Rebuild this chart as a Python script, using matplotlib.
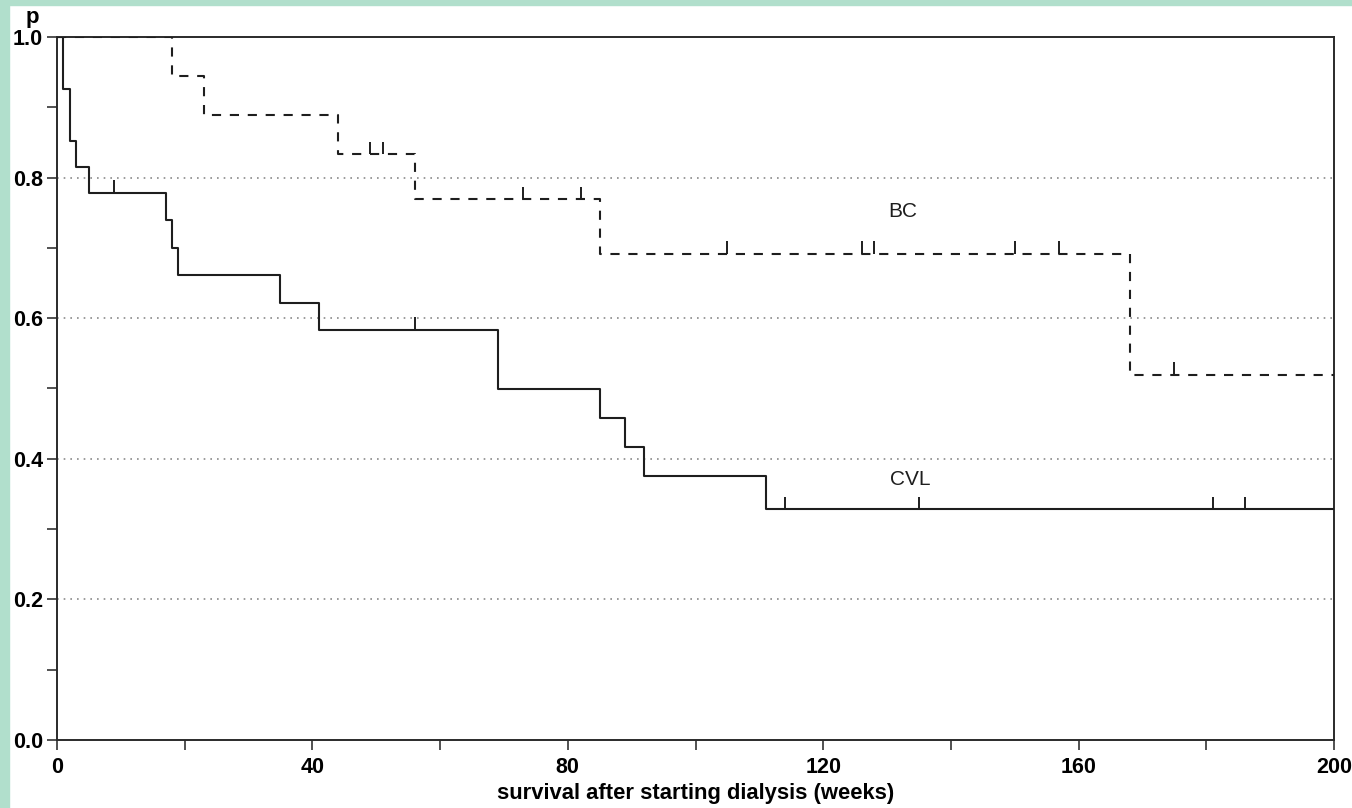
import numpy as np
import matplotlib.pyplot as plt
from matplotlib.patches import Rectangle
from matplotlib.ticker import MultipleLocator

plt.rcParams['font.family'] = ['Liberation Sans', 'DejaVu Sans']

# Kaplan-Meier steps, CVL group (solid)
cvl_times = [0, 1, 2, 3, 5, 17, 18, 19, 35, 41, 69, 85, 89, 92, 111, 200]
cvl_surv = [1.0, 0.926, 0.852, 0.815, 0.778, 0.739, 0.700, 0.661, 0.622, 0.583,
            0.500, 0.458, 0.417, 0.375, 0.328, 0.328]
cvl_censor = [9, 56, 114, 135, 181, 186]

# Kaplan-Meier steps, BC group (dashed)
bc_times = [0, 18, 23, 44, 56, 85, 168, 200]
bc_surv = [1.0, 0.944, 0.889, 0.833, 0.769, 0.692, 0.519, 0.519]
bc_censor = [49, 51, 73, 82, 105, 126, 128, 150, 157, 175]

line_col = '#1e1e1e'


def surv_at(times, surv, t):
    idx = np.searchsorted(times, t, side='right') - 1
    return np.asarray(surv)[idx]


fig = plt.figure(figsize=(13.52, 8.08), dpi=100, facecolor='white')
# teal border strips (left and top)
fig.patches.append(Rectangle((0, 0), 9 / 1352, 1, transform=fig.transFigure,
                             color='#b1dfcc', zorder=0))
fig.patches.append(Rectangle((0, 1 - 5 / 808), 1, 5 / 808, transform=fig.transFigure,
                             color='#b1dfcc', zorder=0))

ax = fig.add_axes([57 / 1352, 68 / 808, 1277 / 1352, 703 / 808])
ax.set_xlim(0, 200)
ax.set_ylim(0, 1.0)

for yv in [0.2, 0.4, 0.6, 0.8]:
    ax.axhline(yv, color='#8a8a8a', lw=1.2, dashes=(1, 3.0), zorder=1)

ax.step(cvl_times, cvl_surv, where='post', color=line_col, lw=1.5, zorder=3)
ax.step(bc_times, bc_surv, where='post', color=line_col, lw=1.5,
        dashes=(4.4, 4.2), zorder=3)

tick_h = 0.018
cy = surv_at(cvl_times, cvl_surv, cvl_censor)
ax.vlines(cvl_censor, cy, cy + tick_h, color=line_col, lw=1.4, zorder=3)
by = surv_at(bc_times, bc_surv, bc_censor)
ax.vlines(bc_censor, by, by + tick_h, color=line_col, lw=1.4, zorder=3)

ax.text(132.5, 0.752, 'BC', fontsize=15, ha='center', va='center', color=line_col)
ax.text(133.6, 0.371, 'CVL', fontsize=15, ha='center', va='center', color=line_col)

for sp in ax.spines.values():
    sp.set_color('#2a2a2a')
    sp.set_linewidth(1.4)

ax.xaxis.set_major_locator(MultipleLocator(40))
ax.xaxis.set_minor_locator(MultipleLocator(20))
ax.yaxis.set_major_locator(MultipleLocator(0.2))
ax.yaxis.set_minor_locator(MultipleLocator(0.1))
ax.tick_params(which='both', direction='out', length=7, width=1.2, color='#333333')
ax.tick_params(axis='x', which='both', top=False, pad=5)
ax.tick_params(axis='y', which='both', right=False, pad=3)
ax.set_yticks([0.0, 0.2, 0.4, 0.6, 0.8, 1.0])
ax.set_yticklabels(['0.0', '0.2', '0.4', '0.6', '0.8', '1.0'])
for lab in ax.get_xticklabels() + ax.get_yticklabels():
    lab.set_fontweight('bold')
    lab.set_fontsize(15.5)

ax.set_xlabel('survival after starting dialysis (weeks)', fontsize=15.8,
              fontweight='bold', labelpad=4)
fig.text(32 / 1352, 1 - 18 / 808, 'p', fontsize=16, fontweight='bold',
         ha='center', va='center')

fig.savefig('out.png', dpi=100, facecolor='white')
